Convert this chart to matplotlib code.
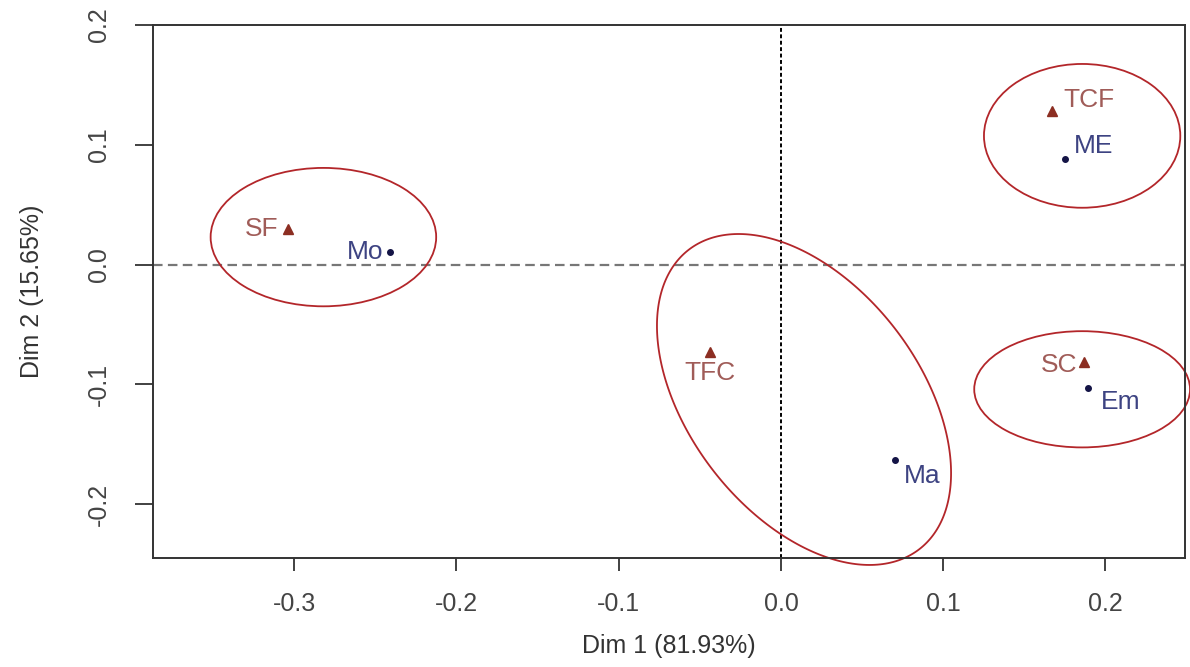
import numpy as np
import matplotlib
matplotlib.use("Agg")
import matplotlib.pyplot as plt
from matplotlib.patches import Ellipse, Polygon

plt.rcParams['font.family'] = ['Liberation Sans', 'DejaVu Sans']

# row points (triangles)
row_names = ["SF", "TCF", "TFC", "SC"]
row_x = [-0.304, 0.167, -0.044, 0.187]
row_y = [0.030, 0.128, -0.073, -0.081]

# column points (dots)
col_names = ["Mo", "ME", "Ma", "Em"]
col_x = [-0.241, 0.175, 0.070, 0.189]
col_y = [0.0105, 0.088, -0.163, -0.103]

# label offsets (points) and alignment
row_off = [(-6.5, -0.5, "right"), (8, 8, "left"),
           (0, -15, "center"), (-5, -2, "right")]
col_off = [(-5, 0, "right"), (6.5, 9.5, "left"),
           (7, -11.5, "left"), (9.4, -10, "left")]

tri_color = "#8c2e22"
tri_text = "#a05c58"
dot_color = "#141446"
dot_text = "#3d4382"
ell_color = "#b3262a"

fig = plt.figure(figsize=(11.9, 6.67), dpi=100)
ax = fig.add_axes([0.1286, 0.1634, 0.8672, 0.7991])

ax.axhline(0, color="#777777", lw=1.6, ls=(0, (4.3, 2.4)), zorder=1)
ax.axvline(0, color="black", lw=1.4, ls=(0, (2.0, 1.3)), zorder=1)

# cluster ellipses (axis aligned)
for cx, cy, w, h in [(-0.282, 0.023, 0.139, 0.1155),
                     (0.1856, 0.1075, 0.121, 0.120),
                     (0.1856, -0.104, 0.133, 0.097)]:
    ax.add_patch(Ellipse((cx, cy), w, h, fill=False, ec=ell_color, lw=1.3,
                         zorder=2, clip_on=False))

# tilted ellipse: centre plus two semi-axis vectors in data units
c = np.array([0.0142, -0.1125])
u = np.array([0.0711, -0.1249])
v = np.array([0.0562, 0.0589])
t = np.linspace(0, 2 * np.pi, 300)
pts = c + np.outer(np.cos(t), u) + np.outer(np.sin(t), v)
ax.add_patch(Polygon(pts, closed=True, fill=False, ec=ell_color, lw=1.3,
                     zorder=2, clip_on=False))

ax.plot(row_x, row_y, "^", color=tri_color, ms=6.5, zorder=3)
ax.plot(col_x, col_y, "o", color=dot_color, ms=4, zorder=3)

for name, x, y, (dx, dy, ha) in zip(row_names, row_x, row_y, row_off):
    ax.annotate(name, (x, y), xytext=(dx, dy), textcoords="offset points",
                ha=ha, va="center", color=tri_text, fontsize=19)
for name, x, y, (dx, dy, ha) in zip(col_names, col_x, col_y, col_off):
    ax.annotate(name, (x, y), xytext=(dx, dy), textcoords="offset points",
                ha=ha, va="center", color=dot_text, fontsize=19)

ax.set_xlim(-0.387, 0.249)
ax.set_ylim(-0.2448, 0.2)
ax.set_xticks([-0.3, -0.2, -0.1, 0.0, 0.1, 0.2])
ax.set_yticks([-0.2, -0.1, 0.0, 0.1, 0.2])
ax.set_xticklabels(["-0.3", "-0.2", "-0.1", "0.0", "0.1", "0.2"])
ax.set_yticklabels(["-0.2", "-0.1", "0.0", "0.1", "0.2"], rotation=90, va="center")
ax.tick_params(axis="x", length=9.5, width=1.3, colors="#333333", labelsize=18, pad=15, labelcolor="#444444")
ax.tick_params(axis="y", length=13, width=1.3, colors="#333333", labelsize=18, pad=17, labelcolor="#444444")
for s in ax.spines.values():
    s.set_color("#333333")
    s.set_linewidth(1.4)

ax.set_xlabel("Dim 1 (81.93%)", fontsize=18, color="#333333", labelpad=13)
ax.set_ylabel("Dim 2 (15.65%)", fontsize=18, color="#333333", labelpad=31)

fig.savefig("out.png", dpi=100)
